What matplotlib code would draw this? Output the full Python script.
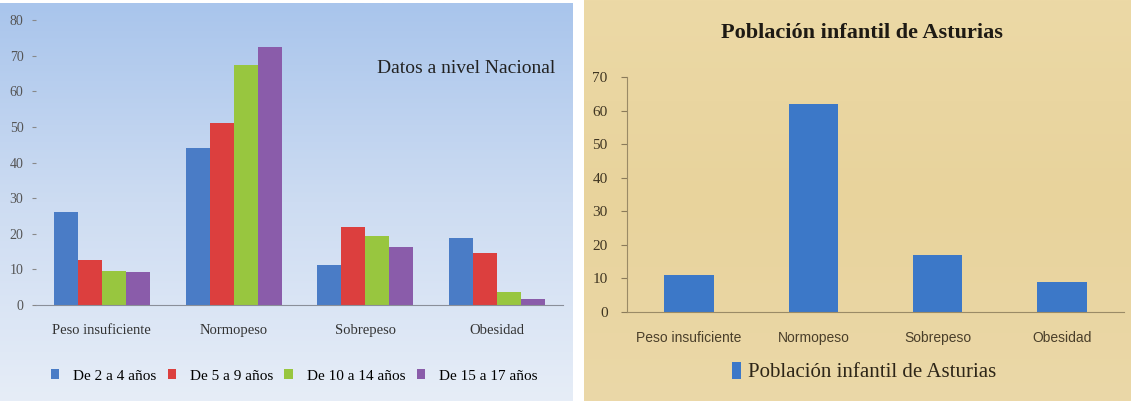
import numpy as np
import matplotlib.pyplot as plt
from matplotlib.colors import LinearSegmentedColormap

# datos del grafico nacional (izquierda)
categorias = ['Peso insuficiente', 'Normopeso', 'Sobrepeso', 'Obesidad']
edades = ['De 2 a 4 años', 'De 5 a 9 años', 'De 10 a 14 años', 'De 15 a 17 años']
de_2_a_4 = [26, 44, 11.3, 18.7]
de_5_a_9 = [12.5, 51, 22, 14.7]
de_10_a_14 = [9.5, 67.5, 19.3, 3.7]
de_15_a_17 = [9.3, 72.5, 16.2, 1.7]

# datos de Asturias (derecha)
asturias = [11, 62, 17, 9]

colores = ['#4a7cc6', '#dc3f3e', '#98c63f', '#8a5caa']
W, H = 1131, 401

fig = plt.figure(figsize=(W / 100, H / 100), dpi=100)
fig.patch.set_facecolor('white')

serif = ['Liberation Serif', 'DejaVu Serif']

## fondos
bg1 = fig.add_axes([0, 0, 573 / W, 398 / H])
cmap1 = LinearSegmentedColormap.from_list('azul', ['#a9c5ec', '#cddcf2', '#e6edf7'])
bg1.imshow(np.linspace(0, 1, 200).reshape(-1, 1), aspect='auto', cmap=cmap1,
           extent=[0, 1, 0, 1])
bg1.axis('off')

bg2 = fig.add_axes([584 / W, 0, (W - 584) / W, 1])
cmap2 = LinearSegmentedColormap.from_list('papiro', ['#ecd9a6', '#e8d39c', '#ebd8a8'])
bg2.imshow(np.linspace(0, 1, 200).reshape(-1, 1), aspect='auto', cmap=cmap2,
           extent=[0, 1, 0, 1])
bg2.axis('off')

## grafico nacional
ax1 = fig.add_axes([36 / W, (H - 305) / H, 527 / W, 285 / H])
ax1.set_facecolor('none')
x = np.arange(len(categorias))
ancho = 0.1825
series = [de_2_a_4, de_5_a_9, de_10_a_14, de_15_a_17]
for i, (vals, lab) in enumerate(zip(series, edades)):
    ax1.bar(x + (i - 1.5) * ancho, vals, ancho, color=colores[i], label=lab)
ax1.set_xlim(-0.5, 3.5)
ax1.set_ylim(0, 80)
ax1.set_yticks(range(0, 81, 10))
ax1.set_xticks(x)
ax1.set_xticklabels(categorias, family=serif, fontsize=10.5, color='#333333')
for t in ax1.get_yticklabels():
    t.set_family(serif)
    t.set_fontsize(10)
    t.set_color('#555555')
ax1.tick_params(axis='x', length=0, pad=14)
ax1.tick_params(axis='y', length=3, color='#888888', pad=6)
for s in ['top', 'right', 'left']:
    ax1.spines[s].set_visible(False)
ax1.spines['bottom'].set_color('#8a8f99')
ax1.text(0.985, 0.83, 'Datos a nivel Nacional', transform=ax1.transAxes, ha='right',
         va='center', family=serif, fontsize=14, color='#222222')
ax1.legend(loc='center', bbox_to_anchor=(258 / 527, -71 / 285), ncol=4, frameon=False,
           prop={'family': serif, 'size': 11}, handlelength=0.55, handleheight=0.55,
           handletextpad=0.9, columnspacing=0.75)

## grafico Asturias
ax2 = fig.add_axes([627 / W, (H - 312) / H, 497 / W, 235 / H])
ax2.set_facecolor('none')
ax2.bar(x, asturias, 0.4, color='#3c78c8', label='Población infantil de Asturias')
ax2.set_xlim(-0.5, 3.5)
ax2.set_ylim(0, 70)
ax2.set_yticks(range(0, 71, 10))
ax2.set_xticks(x)
ax2.set_xticklabels(categorias, fontsize=10, color='#4a3f2a', family=['Liberation Sans', 'DejaVu Sans'])
for t in ax2.get_yticklabels():
    t.set_family(serif)
    t.set_fontsize(11)
    t.set_color('#3f3522')
ax2.tick_params(axis='x', length=0, pad=14)
ax2.tick_params(axis='y', length=4, color='#8a7a5a', pad=10)
for s in ['top', 'right']:
    ax2.spines[s].set_visible(False)
ax2.spines['left'].set_color('#9a8a66')
ax2.spines['bottom'].set_color('#9a8a66')
fig.text(862 / W, (H - 33) / H, 'Población infantil de Asturias', ha='center', va='center',
         family=serif, fontsize=16, fontweight='bold', color='#1e1a14')
ax2.legend(loc='center', bbox_to_anchor=(237 / 497, -60 / 235), frameon=False,
           prop={'family': serif, 'size': 15}, handlelength=0.45, handleheight=0.9,
           handletextpad=0.3, labelcolor='#2e2618')

fig.savefig('out.png', dpi=100)
